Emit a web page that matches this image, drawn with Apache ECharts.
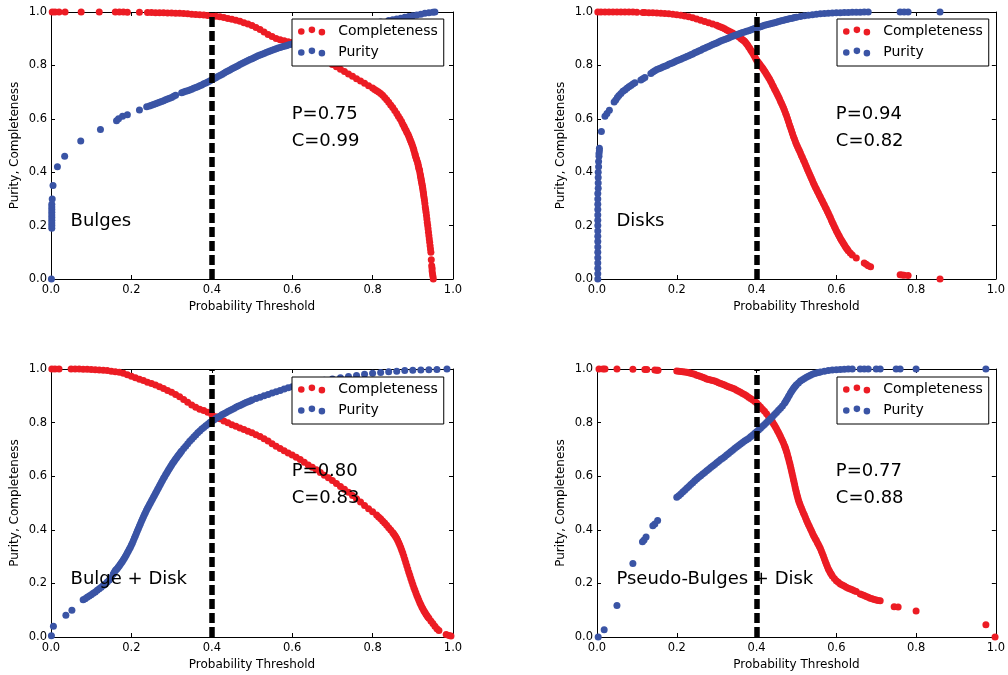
<!DOCTYPE html>
<html>
<head>
<meta charset="utf-8">
<script src="https://cdn.jsdelivr.net/npm/echarts@6/dist/echarts.min.js"></script>
<style>
html,body{margin:0;padding:0;background:#fff;}
#chart{width:1008px;height:675px;}
</style>
</head>
<body>
<div id="chart"></div>
<script>
// ---------------- DATA ----------------
const panelNames = ['Bulges', 'Disks', 'Bulge + Disk', 'Pseudo-Bulges + Disk'];
const purityAtThreshold = ['0.75', '0.94', '0.80', '0.77'];
const completenessAtThreshold = ['0.99', '0.82', '0.83', '0.88'];
const threshold = 0.4;
const xTicks = ['0.0', '0.2', '0.4', '0.6', '0.8', '1.0'];
const yTicks = ['0.0', '0.2', '0.4', '0.6', '0.8', '1.0'];

const bulgesCompleteness = [[0.003,1],[0.01,1],[0.02,1],[0.035,1],[0.075,1],[0.12,1],[0.16,1],[0.17,1],[0.18,1],[0.19,0.999],[0.22,0.999],[0.24,0.998],[0.25,0.998],[0.26,0.997],[0.27,0.997],[0.28,0.997],[0.29,0.996],[0.3,0.996],[0.31,0.995],[0.32,0.995],[0.33,0.994],[0.34,0.993],[0.35,0.992],[0.36,0.991],[0.37,0.99],[0.38,0.989],[0.39,0.987],[0.4,0.986],[0.41,0.984],[0.42,0.982],[0.43,0.979],[0.44,0.976],[0.45,0.973],[0.46,0.969],[0.47,0.965],[0.48,0.96],[0.49,0.955],[0.5,0.949],[0.51,0.942],[0.52,0.934],[0.53,0.925],[0.54,0.916],[0.55,0.908],[0.56,0.901],[0.57,0.896],[0.58,0.892],[0.59,0.889],[0.6,0.886],[0.62,0.876],[0.64,0.862],[0.66,0.845],[0.68,0.825],[0.7,0.803],[0.71,0.795],[0.72,0.786],[0.73,0.777],[0.74,0.768],[0.75,0.759],[0.76,0.75],[0.77,0.742],[0.78,0.733],[0.79,0.724],[0.8,0.715],[0.805,0.71],[0.81,0.705],[0.815,0.7],[0.82,0.695],[0.825,0.688],[0.83,0.68],[0.835,0.671],[0.84,0.662],[0.845,0.652],[0.85,0.642],[0.855,0.631],[0.86,0.62],[0.864,0.61],[0.868,0.6],[0.872,0.59],[0.875,0.58],[0.878,0.572],[0.88,0.565],[0.883,0.557],[0.885,0.55],[0.888,0.542],[0.89,0.535],[0.892,0.527],[0.894,0.52],[0.896,0.512],[0.898,0.505],[0.9,0.495],[0.902,0.487],[0.903,0.48],[0.905,0.47],[0.906,0.464],[0.907,0.458],[0.909,0.45],[0.91,0.445],[0.912,0.436],[0.913,0.43],[0.914,0.422],[0.915,0.415],[0.916,0.41],[0.917,0.405],[0.918,0.395],[0.919,0.388],[0.9195,0.383],[0.9205,0.376],[0.921,0.37],[0.922,0.363],[0.9225,0.358],[0.9235,0.351],[0.924,0.345],[0.925,0.338],[0.9255,0.33],[0.9265,0.322],[0.927,0.315],[0.928,0.305],[0.929,0.295],[0.93,0.283],[0.931,0.27],[0.932,0.26],[0.933,0.25],[0.934,0.238],[0.935,0.225],[0.936,0.212],[0.937,0.2],[0.938,0.188],[0.939,0.175],[0.94,0.162],[0.941,0.15],[0.942,0.138],[0.943,0.125],[0.944,0.112],[0.945,0.1],[0.946,0.072],[0.947,0.05],[0.948,0.04],[0.948,0.03],[0.949,0.02],[0.95,0.01],[0.951,0.0]];

const bulgesPurity = [[0.001,0.0],[0.002,0.19],[0.002,0.2],[0.002,0.21],[0.002,0.22],[0.002,0.23],[0.002,0.24],[0.002,0.25],[0.002,0.26],[0.002,0.27],[0.002,0.28],[0.003,0.3],[0.005,0.35],[0.016,0.42],[0.034,0.46],[0.074,0.517],[0.123,0.56],[0.163,0.593],[0.168,0.6],[0.178,0.61],[0.19,0.615],[0.22,0.633],[0.238,0.645],[0.245,0.648],[0.25,0.651],[0.255,0.654],[0.26,0.656],[0.265,0.659],[0.27,0.662],[0.275,0.665],[0.28,0.668],[0.285,0.671],[0.29,0.674],[0.295,0.677],[0.3,0.68],[0.305,0.684],[0.31,0.688],[0.325,0.698],[0.33,0.7],[0.335,0.703],[0.34,0.705],[0.345,0.708],[0.35,0.711],[0.355,0.714],[0.36,0.717],[0.365,0.72],[0.37,0.724],[0.375,0.727],[0.38,0.731],[0.385,0.734],[0.39,0.738],[0.395,0.742],[0.4,0.746],[0.405,0.75],[0.41,0.754],[0.415,0.758],[0.42,0.762],[0.425,0.766],[0.43,0.771],[0.435,0.775],[0.44,0.779],[0.445,0.783],[0.45,0.787],[0.455,0.791],[0.46,0.795],[0.465,0.799],[0.47,0.803],[0.475,0.807],[0.48,0.811],[0.485,0.815],[0.49,0.818],[0.495,0.822],[0.5,0.825],[0.505,0.829],[0.51,0.832],[0.515,0.836],[0.52,0.839],[0.525,0.842],[0.53,0.845],[0.535,0.848],[0.54,0.851],[0.545,0.854],[0.55,0.857],[0.555,0.86],[0.56,0.862],[0.565,0.865],[0.57,0.867],[0.575,0.87],[0.58,0.872],[0.585,0.874],[0.59,0.876],[0.595,0.878],[0.6,0.88],[0.62,0.888],[0.64,0.896],[0.66,0.904],[0.68,0.912],[0.7,0.92],[0.72,0.928],[0.74,0.936],[0.76,0.944],[0.78,0.952],[0.8,0.958],[0.82,0.963],[0.84,0.968],[0.85,0.971],[0.86,0.974],[0.87,0.977],[0.88,0.98],[0.89,0.983],[0.9,0.986],[0.91,0.989],[0.92,0.992],[0.93,0.995],[0.94,0.997],[0.95,0.999],[0.955,1.0]];

const disksCompleteness = [[0.002,1],[0.01,1],[0.02,1],[0.03,1],[0.04,1],[0.05,1],[0.06,1],[0.07,1],[0.08,1],[0.09,1],[0.1,0.999],[0.115,0.998],[0.12,0.998],[0.13,0.997],[0.14,0.997],[0.15,0.996],[0.16,0.995],[0.17,0.994],[0.18,0.993],[0.19,0.992],[0.2,0.99],[0.21,0.988],[0.22,0.985],[0.23,0.982],[0.24,0.978],[0.25,0.974],[0.26,0.969],[0.27,0.964],[0.28,0.96],[0.29,0.955],[0.3,0.95],[0.305,0.947],[0.31,0.944],[0.315,0.941],[0.32,0.937],[0.325,0.933],[0.33,0.929],[0.335,0.925],[0.34,0.921],[0.345,0.917],[0.35,0.912],[0.355,0.907],[0.36,0.902],[0.3625,0.899],[0.365,0.896],[0.3675,0.893],[0.37,0.89],[0.3725,0.886],[0.375,0.881],[0.3775,0.876],[0.38,0.87],[0.3825,0.865],[0.385,0.859],[0.3875,0.853],[0.39,0.847],[0.3925,0.841],[0.395,0.834],[0.3975,0.827],[0.4,0.82],[0.4025,0.815],[0.405,0.81],[0.4075,0.805],[0.41,0.8],[0.4125,0.795],[0.415,0.79],[0.4175,0.785],[0.42,0.779],[0.4225,0.773],[0.425,0.767],[0.4275,0.761],[0.43,0.755],[0.4325,0.749],[0.435,0.742],[0.4375,0.735],[0.44,0.727],[0.4425,0.72],[0.445,0.712],[0.4475,0.705],[0.45,0.698],[0.4525,0.69],[0.455,0.683],[0.4575,0.675],[0.46,0.666],[0.4625,0.658],[0.465,0.65],[0.4675,0.641],[0.47,0.632],[0.4725,0.622],[0.475,0.612],[0.4775,0.601],[0.48,0.59],[0.4825,0.578],[0.485,0.567],[0.4875,0.556],[0.49,0.545],[0.4925,0.534],[0.495,0.524],[0.4975,0.514],[0.5,0.505],[0.5025,0.496],[0.505,0.488],[0.5075,0.48],[0.51,0.472],[0.5125,0.463],[0.515,0.455],[0.5175,0.446],[0.52,0.438],[0.5225,0.429],[0.525,0.42],[0.5275,0.411],[0.53,0.403],[0.5325,0.394],[0.535,0.386],[0.5375,0.377],[0.54,0.369],[0.5425,0.36],[0.545,0.352],[0.5475,0.344],[0.55,0.337],[0.5525,0.329],[0.555,0.322],[0.5575,0.314],[0.56,0.307],[0.5625,0.299],[0.565,0.292],[0.5675,0.284],[0.57,0.277],[0.5725,0.269],[0.575,0.262],[0.5775,0.254],[0.58,0.246],[0.5825,0.238],[0.585,0.23],[0.5875,0.221],[0.59,0.213],[0.5925,0.205],[0.595,0.197],[0.5975,0.189],[0.6,0.181],[0.6025,0.174],[0.605,0.167],[0.6075,0.16],[0.61,0.153],[0.6125,0.146],[0.615,0.14],[0.6175,0.134],[0.62,0.128],[0.6225,0.122],[0.625,0.116],[0.6275,0.111],[0.63,0.106],[0.635,0.097],[0.64,0.09],[0.65,0.079],[0.67,0.06],[0.675,0.055],[0.68,0.05],[0.686,0.046],[0.76,0.016],[0.765,0.015],[0.77,0.014],[0.78,0.013],[0.86,0.0]];

const disksPurity = [[0.002,0.0],[0.002,0.02],[0.002,0.04],[0.002,0.06],[0.002,0.08],[0.002,0.1],[0.002,0.12],[0.002,0.14],[0.002,0.16],[0.002,0.18],[0.002,0.2],[0.002,0.22],[0.002,0.24],[0.002,0.26],[0.002,0.28],[0.002,0.3],[0.002,0.32],[0.003,0.34],[0.003,0.36],[0.003,0.38],[0.003,0.4],[0.004,0.42],[0.004,0.44],[0.005,0.46],[0.005,0.47],[0.006,0.48],[0.006,0.49],[0.011,0.552],[0.02,0.61],[0.025,0.62],[0.031,0.632],[0.043,0.663],[0.047,0.67],[0.051,0.68],[0.055,0.687],[0.06,0.695],[0.065,0.703],[0.07,0.708],[0.075,0.714],[0.08,0.72],[0.085,0.725],[0.09,0.73],[0.095,0.735],[0.11,0.745],[0.115,0.75],[0.12,0.755],[0.135,0.77],[0.14,0.775],[0.145,0.78],[0.15,0.785],[0.155,0.787],[0.16,0.79],[0.165,0.794],[0.17,0.797],[0.175,0.8],[0.18,0.804],[0.185,0.807],[0.19,0.81],[0.195,0.814],[0.2,0.817],[0.205,0.82],[0.21,0.823],[0.215,0.827],[0.22,0.83],[0.225,0.833],[0.23,0.836],[0.235,0.84],[0.24,0.843],[0.245,0.847],[0.25,0.85],[0.255,0.854],[0.26,0.857],[0.265,0.861],[0.27,0.864],[0.275,0.868],[0.28,0.871],[0.285,0.875],[0.29,0.878],[0.295,0.881],[0.3,0.884],[0.305,0.888],[0.31,0.891],[0.315,0.894],[0.32,0.897],[0.325,0.9],[0.33,0.903],[0.335,0.906],[0.34,0.909],[0.345,0.912],[0.35,0.915],[0.355,0.918],[0.36,0.92],[0.365,0.923],[0.37,0.925],[0.375,0.928],[0.38,0.93],[0.385,0.933],[0.39,0.935],[0.395,0.938],[0.4,0.94],[0.405,0.943],[0.41,0.945],[0.415,0.948],[0.42,0.95],[0.425,0.952],[0.43,0.954],[0.435,0.956],[0.44,0.958],[0.445,0.96],[0.45,0.962],[0.455,0.964],[0.46,0.966],[0.465,0.968],[0.47,0.97],[0.475,0.972],[0.48,0.974],[0.485,0.976],[0.49,0.977],[0.495,0.979],[0.5,0.98],[0.51,0.983],[0.52,0.986],[0.53,0.988],[0.54,0.99],[0.55,0.992],[0.56,0.993],[0.57,0.994],[0.58,0.995],[0.59,0.996],[0.6,0.997],[0.61,0.997],[0.62,0.998],[0.63,0.998],[0.64,0.999],[0.65,0.999],[0.66,0.999],[0.67,1],[0.68,1],[0.76,1],[0.77,1],[0.78,1],[0.86,1]];

const bulgeDiskCompleteness = [[0.002,1],[0.01,1],[0.02,1],[0.05,1],[0.06,1],[0.07,1],[0.08,0.999],[0.09,0.999],[0.1,0.998],[0.11,0.997],[0.12,0.996],[0.13,0.995],[0.14,0.994],[0.15,0.992],[0.16,0.99],[0.17,0.988],[0.18,0.984],[0.19,0.979],[0.2,0.973],[0.21,0.967],[0.22,0.962],[0.23,0.957],[0.24,0.951],[0.25,0.946],[0.26,0.94],[0.27,0.934],[0.28,0.927],[0.29,0.92],[0.3,0.913],[0.31,0.905],[0.32,0.896],[0.33,0.886],[0.34,0.876],[0.35,0.866],[0.36,0.857],[0.37,0.85],[0.38,0.845],[0.39,0.839],[0.4,0.83],[0.41,0.822],[0.42,0.814],[0.43,0.806],[0.44,0.799],[0.45,0.792],[0.46,0.786],[0.47,0.78],[0.48,0.774],[0.49,0.768],[0.5,0.762],[0.51,0.755],[0.52,0.748],[0.53,0.74],[0.54,0.731],[0.55,0.721],[0.56,0.712],[0.57,0.703],[0.58,0.695],[0.59,0.687],[0.6,0.679],[0.61,0.671],[0.62,0.662],[0.63,0.652],[0.64,0.642],[0.65,0.633],[0.66,0.624],[0.67,0.614],[0.68,0.604],[0.69,0.594],[0.7,0.584],[0.71,0.573],[0.72,0.562],[0.73,0.551],[0.74,0.54],[0.75,0.528],[0.76,0.516],[0.77,0.504],[0.78,0.491],[0.79,0.479],[0.8,0.467],[0.81,0.455],[0.815,0.448],[0.82,0.441],[0.825,0.433],[0.83,0.425],[0.835,0.417],[0.84,0.408],[0.845,0.399],[0.85,0.39],[0.8525,0.385],[0.855,0.38],[0.8575,0.374],[0.86,0.368],[0.8625,0.36],[0.865,0.352],[0.8675,0.343],[0.87,0.334],[0.8725,0.324],[0.875,0.313],[0.8775,0.302],[0.88,0.29],[0.8825,0.278],[0.885,0.266],[0.8875,0.254],[0.89,0.242],[0.8925,0.23],[0.895,0.218],[0.8975,0.207],[0.9,0.196],[0.9025,0.185],[0.905,0.175],[0.9075,0.165],[0.91,0.155],[0.9125,0.146],[0.915,0.137],[0.9175,0.128],[0.92,0.12],[0.9225,0.112],[0.925,0.105],[0.9275,0.098],[0.93,0.092],[0.9325,0.086],[0.935,0.08],[0.9375,0.075],[0.94,0.07],[0.945,0.06],[0.95,0.05],[0.955,0.04],[0.96,0.031],[0.965,0.024],[0.983,0.009],[0.99,0.006],[0.995,0.004]];

const bulgeDiskPurity = [[0.001,0.005],[0.006,0.04],[0.037,0.081],[0.052,0.1],[0.08,0.139],[0.085,0.143],[0.09,0.148],[0.095,0.153],[0.1,0.158],[0.105,0.163],[0.11,0.168],[0.115,0.174],[0.12,0.18],[0.125,0.186],[0.13,0.192],[0.135,0.198],[0.14,0.205],[0.145,0.213],[0.15,0.222],[0.155,0.235],[0.1575,0.242],[0.16,0.248],[0.1625,0.252],[0.165,0.256],[0.1675,0.261],[0.17,0.266],[0.1725,0.271],[0.175,0.277],[0.1775,0.282],[0.18,0.288],[0.1825,0.294],[0.185,0.3],[0.1875,0.307],[0.19,0.314],[0.1925,0.321],[0.195,0.328],[0.1975,0.335],[0.2,0.343],[0.2025,0.351],[0.205,0.36],[0.2075,0.369],[0.21,0.378],[0.2125,0.387],[0.215,0.396],[0.2175,0.405],[0.22,0.414],[0.2225,0.423],[0.225,0.432],[0.2275,0.44],[0.23,0.449],[0.2325,0.457],[0.235,0.465],[0.2375,0.473],[0.24,0.48],[0.2425,0.487],[0.245,0.494],[0.2475,0.501],[0.25,0.508],[0.2525,0.515],[0.255,0.522],[0.2575,0.529],[0.26,0.536],[0.2625,0.543],[0.265,0.55],[0.2675,0.557],[0.27,0.564],[0.2725,0.571],[0.275,0.578],[0.2775,0.585],[0.28,0.592],[0.2825,0.598],[0.285,0.605],[0.2875,0.611],[0.29,0.618],[0.2925,0.624],[0.295,0.63],[0.2975,0.636],[0.3,0.642],[0.3025,0.648],[0.305,0.653],[0.3075,0.659],[0.31,0.664],[0.3125,0.669],[0.315,0.674],[0.3175,0.679],[0.32,0.684],[0.3225,0.689],[0.325,0.694],[0.33,0.703],[0.335,0.712],[0.34,0.721],[0.345,0.73],[0.35,0.738],[0.355,0.746],[0.36,0.754],[0.365,0.762],[0.37,0.769],[0.375,0.776],[0.38,0.782],[0.385,0.788],[0.39,0.794],[0.395,0.8],[0.4,0.805],[0.405,0.81],[0.41,0.815],[0.415,0.82],[0.42,0.824],[0.425,0.829],[0.43,0.833],[0.435,0.837],[0.44,0.841],[0.445,0.845],[0.45,0.849],[0.455,0.853],[0.46,0.857],[0.465,0.861],[0.47,0.864],[0.475,0.868],[0.48,0.871],[0.485,0.875],[0.49,0.878],[0.495,0.881],[0.5,0.884],[0.51,0.89],[0.52,0.895],[0.53,0.9],[0.54,0.905],[0.55,0.91],[0.56,0.915],[0.57,0.92],[0.58,0.925],[0.59,0.93],[0.6,0.934],[0.62,0.941],[0.64,0.947],[0.66,0.953],[0.68,0.958],[0.7,0.963],[0.72,0.967],[0.74,0.972],[0.76,0.976],[0.78,0.98],[0.8,0.984],[0.82,0.987],[0.84,0.99],[0.86,0.992],[0.88,0.994],[0.9,0.995],[0.92,0.996],[0.94,0.997],[0.96,0.998],[0.985,1.0]];

const pseudoCompleteness = [[0.005,1],[0.015,1],[0.02,1],[0.05,1],[0.09,0.999],[0.12,0.998],[0.125,0.998],[0.145,0.996],[0.15,0.995],[0.153,0.995],[0.2,0.993],[0.205,0.992],[0.21,0.991],[0.215,0.99],[0.22,0.989],[0.225,0.988],[0.23,0.986],[0.235,0.984],[0.24,0.982],[0.245,0.98],[0.25,0.977],[0.255,0.975],[0.26,0.972],[0.265,0.969],[0.27,0.966],[0.275,0.963],[0.28,0.961],[0.285,0.959],[0.29,0.957],[0.295,0.955],[0.3,0.952],[0.305,0.949],[0.31,0.946],[0.315,0.943],[0.32,0.94],[0.325,0.937],[0.33,0.934],[0.335,0.931],[0.34,0.928],[0.345,0.925],[0.35,0.921],[0.355,0.917],[0.36,0.913],[0.365,0.909],[0.37,0.905],[0.375,0.9],[0.38,0.895],[0.385,0.89],[0.39,0.885],[0.395,0.88],[0.4,0.874],[0.405,0.866],[0.41,0.858],[0.415,0.85],[0.42,0.842],[0.425,0.833],[0.43,0.823],[0.4325,0.818],[0.435,0.813],[0.4375,0.808],[0.44,0.802],[0.4425,0.796],[0.445,0.79],[0.4475,0.784],[0.45,0.777],[0.4525,0.77],[0.455,0.763],[0.4575,0.756],[0.46,0.748],[0.4625,0.74],[0.465,0.732],[0.4675,0.724],[0.47,0.715],[0.4715,0.709],[0.473,0.702],[0.4745,0.695],[0.476,0.688],[0.4775,0.68],[0.479,0.672],[0.4805,0.664],[0.482,0.655],[0.4835,0.646],[0.485,0.637],[0.4865,0.628],[0.488,0.618],[0.4895,0.608],[0.491,0.598],[0.4925,0.588],[0.494,0.578],[0.4955,0.568],[0.497,0.558],[0.4985,0.548],[0.5,0.539],[0.5015,0.53],[0.503,0.522],[0.5045,0.514],[0.506,0.506],[0.508,0.498],[0.51,0.49],[0.5125,0.481],[0.515,0.472],[0.5175,0.463],[0.52,0.455],[0.5225,0.446],[0.525,0.437],[0.5275,0.428],[0.53,0.42],[0.5325,0.412],[0.535,0.404],[0.5375,0.396],[0.54,0.388],[0.5425,0.38],[0.545,0.373],[0.5475,0.366],[0.55,0.36],[0.5525,0.352],[0.555,0.345],[0.5575,0.338],[0.56,0.33],[0.5625,0.321],[0.565,0.312],[0.5675,0.302],[0.57,0.292],[0.5725,0.282],[0.575,0.272],[0.5775,0.263],[0.58,0.254],[0.5825,0.247],[0.585,0.24],[0.5875,0.234],[0.59,0.228],[0.595,0.218],[0.6,0.21],[0.605,0.204],[0.61,0.198],[0.615,0.194],[0.62,0.19],[0.625,0.186],[0.63,0.182],[0.635,0.179],[0.64,0.176],[0.645,0.173],[0.65,0.17],[0.66,0.16],[0.665,0.158],[0.67,0.155],[0.675,0.151],[0.68,0.148],[0.685,0.145],[0.69,0.143],[0.695,0.14],[0.7,0.138],[0.705,0.136],[0.71,0.135],[0.745,0.113],[0.755,0.112],[0.8,0.097],[0.975,0.046],[0.998,0.0]];

const pseudoPurity = [[0.003,0.0],[0.018,0.027],[0.05,0.118],[0.09,0.274],[0.114,0.355],[0.118,0.362],[0.123,0.373],[0.14,0.415],[0.145,0.422],[0.152,0.435],[0.2,0.521],[0.205,0.527],[0.21,0.534],[0.215,0.541],[0.22,0.548],[0.225,0.555],[0.23,0.562],[0.235,0.569],[0.24,0.576],[0.245,0.583],[0.25,0.59],[0.255,0.596],[0.26,0.602],[0.265,0.608],[0.27,0.614],[0.275,0.62],[0.28,0.626],[0.285,0.632],[0.29,0.638],[0.295,0.644],[0.3,0.65],[0.305,0.656],[0.31,0.662],[0.315,0.667],[0.32,0.673],[0.325,0.679],[0.33,0.685],[0.335,0.691],[0.34,0.697],[0.345,0.703],[0.35,0.709],[0.355,0.715],[0.36,0.72],[0.365,0.726],[0.37,0.731],[0.375,0.736],[0.38,0.741],[0.385,0.747],[0.39,0.753],[0.395,0.759],[0.4,0.766],[0.405,0.772],[0.41,0.779],[0.415,0.786],[0.42,0.793],[0.425,0.8],[0.43,0.807],[0.435,0.814],[0.44,0.822],[0.445,0.83],[0.45,0.838],[0.455,0.846],[0.46,0.854],[0.465,0.862],[0.47,0.872],[0.4725,0.878],[0.475,0.884],[0.4775,0.89],[0.48,0.897],[0.4825,0.903],[0.485,0.91],[0.4875,0.916],[0.49,0.922],[0.4925,0.927],[0.495,0.932],[0.4975,0.937],[0.5,0.941],[0.505,0.948],[0.51,0.955],[0.515,0.96],[0.52,0.965],[0.525,0.969],[0.53,0.973],[0.535,0.977],[0.54,0.98],[0.545,0.983],[0.55,0.985],[0.555,0.987],[0.56,0.989],[0.57,0.992],[0.58,0.994],[0.59,0.996],[0.6,0.997],[0.61,0.998],[0.62,0.999],[0.63,1],[0.64,1],[0.66,1],[0.67,1],[0.68,1],[0.7,1],[0.71,1],[0.75,1],[0.76,1],[0.8,1],[0.975,1]];

const completenessSets = [bulgesCompleteness, disksCompleteness, bulgeDiskCompleteness, pseudoCompleteness];
const puritySets = [bulgesPurity, disksPurity, bulgeDiskPurity, pseudoPurity];

// ---------------- STYLE / LAYOUT ----------------
const RED = '#ec1c24';
const BLUE = '#3a54a5';
const FONT = 'DejaVu Sans';
const gridLeft = [51, 597, 51, 597];
const gridTop = [12, 12, 369, 369];
const gridH = [267, 267, 268, 268];
const legendLeft = [292, 837, 292, 837];
const legendTop = [19, 19, 377, 377];
const legendIcon = 'path://M0,5A3.3,3.3,0,1,0,6.6,5A3.3,3.3,0,1,0,0,5Z M10.6,3.4A3.3,3.3,0,1,0,17.2,3.4A3.3,3.3,0,1,0,10.6,3.4Z M20.6,5.7A3.3,3.3,0,1,0,27.2,5.7A3.3,3.3,0,1,0,20.6,5.7Z';

const grids = [], xAxes = [], yAxes = [], legends = [], series = [];
const tickFmt = (labels) => (v) => labels[Math.round(v / 0.2)];

for (let i = 0; i < 4; i++) {
  grids.push({ left: gridLeft[i], top: gridTop[i], width: 402, height: gridH[i], containLabel: false });
  const axisBase = {
    type: 'value', min: 0, max: 1, interval: 0.2, gridIndex: i,
    axisLine: { show: true, onZero: false, lineStyle: { color: '#000', width: 1 } },
    axisTick: { show: true, inside: true, length: 4, lineStyle: { color: '#000', width: 1 } },
    splitLine: { show: false }
  };
  xAxes.push(Object.assign({}, axisBase, {
    position: 'bottom',
    axisLabel: { show: true, formatter: tickFmt(xTicks), color: '#000', fontSize: 11.5, fontFamily: FONT, margin: 5 },
    name: 'Probability Threshold', nameLocation: 'middle', nameGap: 22,
    nameTextStyle: { color: '#000', fontSize: 12, fontFamily: FONT }
  }));
  xAxes.push(Object.assign({}, axisBase, { position: 'top', axisLabel: { show: false } }));
  yAxes.push(Object.assign({}, axisBase, {
    position: 'left',
    axisLabel: { show: true, formatter: tickFmt(yTicks), color: '#000', fontSize: 11.5, fontFamily: FONT, margin: 4 },
    name: 'Purity, Completeness', nameLocation: 'middle', nameGap: 30, nameRotate: 90,
    nameTextStyle: { color: '#000', fontSize: 12, fontFamily: FONT }
  }));
  yAxes.push(Object.assign({}, axisBase, { position: 'right', axisLabel: { show: false } }));

  legends.push({
    left: legendLeft[i], top: legendTop[i], orient: 'vertical',
    data: ['Completeness', 'Purity'], icon: legendIcon,
    itemWidth: 27.2, itemHeight: 9, itemGap: 5,
    padding: [4, 6, 6, 6],
    borderColor: '#000', borderWidth: 1, borderRadius: 0, backgroundColor: '#fff',
    textStyle: { color: '#000', fontSize: 14, fontFamily: FONT, lineHeight: 16, padding: [0, 0, 0, 8] },
    selectedMode: false, z: 8
  });

  series.push({
    name: 'Completeness', type: 'scatter', xAxisIndex: 2 * i, yAxisIndex: 2 * i,
    data: completenessSets[i], symbolSize: 7, itemStyle: { color: RED, opacity: 1 },
    silent: true, z: 2, clip: true
  });
  series.push({
    name: 'Purity', type: 'scatter', xAxisIndex: 2 * i, yAxisIndex: 2 * i,
    data: puritySets[i], symbolSize: 7, itemStyle: { color: BLUE, opacity: 1 },
    silent: true, z: 3, clip: true
  });
  series.push({
    name: 'threshold' + i, type: 'line', xAxisIndex: 2 * i, yAxisIndex: 2 * i,
    data: [], silent: true, z: 4,
    markLine: {
      silent: true, symbol: ['none', 'none'], animation: false,
      label: { show: false },
      lineStyle: { color: '#000', width: 5.5, type: [10, 4], opacity: 1 },
      emphasis: { disabled: true },
      data: [{ xAxis: threshold }]
    }
  });
  const annotLabel = (txt) => ({
    show: true, formatter: txt, position: [0, 0], align: 'left', verticalAlign: 'bottom',
    offset: [0, 5], color: '#000', opacity: 1, fontSize: 18, fontFamily: FONT, fontWeight: 'normal',
    lineHeight: 18, textBorderWidth: 0, textBorderColor: 'transparent', textShadowBlur: 0
  });
  series.push({
    name: 'annot' + i, type: 'scatter', xAxisIndex: 2 * i, yAxisIndex: 2 * i,
    symbolSize: 1, itemStyle: { color: '#000', opacity: 0 }, silent: true, z: 6,
    data: [
      { value: [0.6, 0.6], label: annotLabel('P=' + purityAtThreshold[i]) },
      { value: [0.6, 0.5], label: annotLabel('C=' + completenessAtThreshold[i]) },
      { value: [0.05, 0.2], label: annotLabel(panelNames[i]) }
    ]
  });
}

const chart = echarts.init(document.getElementById('chart'), null, { renderer: 'canvas' });
chart.setOption({
  animation: false,
  backgroundColor: '#fff',
  textStyle: { fontFamily: FONT },
  grid: grids, xAxis: xAxes, yAxis: yAxes, legend: legends, series: series
});
</script>
</body>
</html>
